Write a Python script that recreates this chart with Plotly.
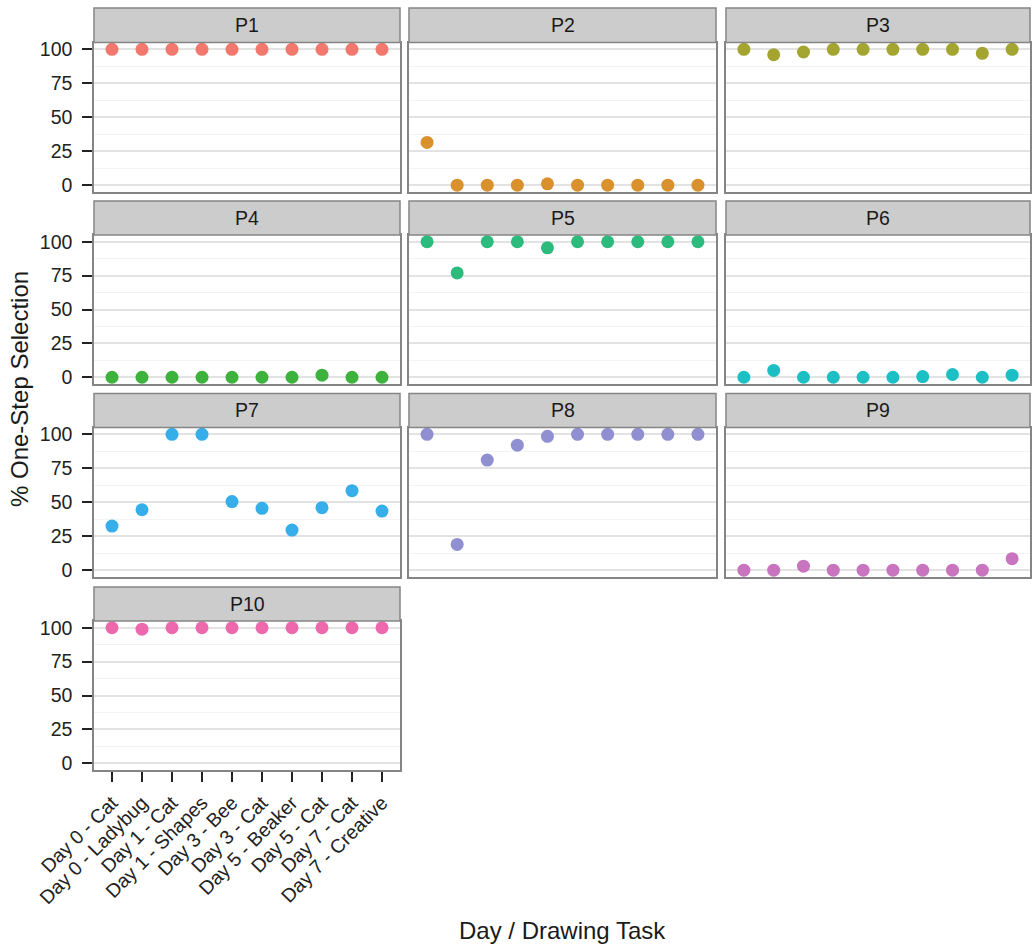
import plotly.graph_objects as go

# Drawing tasks (x categories)
tasks = [
    "Day 0 - Cat", "Day 0 - Ladybug", "Day 1 - Cat", "Day 1 - Shapes",
    "Day 3 - Bee", "Day 3 - Cat", "Day 5 - Beaker", "Day 5 - Cat",
    "Day 7 - Cat", "Day 7 - Creative",
]

participants = ["P1", "P2", "P3", "P4", "P5", "P6", "P7", "P8", "P9", "P10"]

# % one-step selection per participant, one value per task
p1 = [100, 100, 100, 100, 100, 100, 100, 100, 100, 100]
p2 = [31.5, 0, 0, 0, 1, 0, 0, 0, 0, 0]
p3 = [100, 96, 98, 100, 100, 100, 100, 100, 97, 100]
p4 = [0, 0, 0, 0, 0, 0, 0, 1.5, 0, 0]
p5 = [100, 77, 100, 100, 95.5, 100, 100, 100, 100, 100]
p6 = [0, 5, 0, 0, 0, 0, 0.5, 2, 0, 1.5]
p7 = [32.5, 44.5, 100, 100, 50.5, 45.5, 29.5, 46, 58.5, 43.5]
p8 = [100, 19, 81, 92, 98.5, 100, 100, 100, 100, 100]
p9 = [0, 0, 3, 0, 0, 0, 0, 0, 0, 8.5]
p10 = [100, 99, 100, 100, 100, 100, 100, 100, 100, 100]

values = [p1, p2, p3, p4, p5, p6, p7, p8, p9, p10]

colors = ["#F2776D", "#D8912C", "#A3A530", "#3DB23D", "#2DBA7D",
          "#1CBFC3", "#36AEEA", "#8F8FD2", "#C874BE", "#EE68AE"]

y_ticks = [0, 25, 50, 75, 100]

W, H = 1032, 945
col_x = [(94, 400), (409, 716), (726, 1030)]
row_strip_top = [8, 201, 393.5, 587]
row_plot = [(42.5, 192), (235, 384), (427.5, 577), (621, 770)]

font_family = "Liberation Sans, Arial, sans-serif"
text_col = "#222222"

fig = go.Figure()
shapes = []
annotations = []
layout_axes = {}

for i, (name, vals) in enumerate(zip(participants, values)):
    r, c = divmod(i, 3)
    k = "" if i == 0 else str(i + 1)
    x0, x1 = col_x[c]
    ytop, ybot = row_plot[r]

    fig.add_trace(go.Scatter(
        x=tasks, y=vals, mode="markers", name=name,
        xaxis="x" + k, yaxis="y" + k,
        marker=dict(size=13, color=colors[i], line=dict(width=0)),
        showlegend=False, cliponaxis=False,
    ))

    bottom_axis = (r == 3) and (c == 0)
    layout_axes["xaxis" + k] = dict(
        domain=[x0 / W, x1 / W], anchor="y" + k, automargin=False,
        type="category", categoryorder="array", categoryarray=tasks,
        range=[-0.6, 9.6], showgrid=False, zeroline=False,
        showline=True, mirror=True, linecolor="#858585", linewidth=1.5,
        ticks="outside" if bottom_axis else "",
        ticklen=10, tickwidth=2, tickcolor=text_col,
        showticklabels=bottom_axis, tickangle=-45, ticklabelstandoff=2,
        tickfont=dict(size=19.5, color=text_col, family=font_family),
        fixedrange=True,
    )
    layout_axes["yaxis" + k] = dict(
        domain=[1 - ybot / H, 1 - ytop / H], anchor="x" + k, automargin=False,
        range=[-5, 105], tickvals=y_ticks, ticktext=[str(v) for v in y_ticks],
        showgrid=True, gridcolor="#E3E3E3", gridwidth=1.5, zeroline=False,
        minor=dict(dtick=12.5, tick0=0, showgrid=True,
                   gridcolor="#F3F3F3", gridwidth=1),
        showline=True, mirror=True, linecolor="#858585", linewidth=1.5,
        ticks="outside" if c == 0 else "",
        ticklen=10, tickwidth=2, tickcolor=text_col,
        showticklabels=(c == 0), ticklabelstandoff=6,
        tickfont=dict(size=19.5, color=text_col, family=font_family),
        fixedrange=True,
    )

    # facet strip
    st = row_strip_top[r]
    shapes.append(dict(
        type="rect", xref="paper", yref="paper",
        x0=x0 / W, x1=x1 / W, y0=1 - ytop / H, y1=1 - st / H,
        fillcolor="#CCCCCC", line=dict(color="#858585", width=1.5),
        layer="above",
    ))
    annotations.append(dict(
        text=name, xref="paper", yref="paper",
        x=(x0 + x1) / 2 / W, y=1 - (st + ytop) / 2 / H,
        xanchor="center", yanchor="middle", showarrow=False,
        font=dict(size=19.5, color="#1A1A1A", family=font_family),
    ))

annotations.append(dict(
    text="% One-Step Selection", xref="paper", yref="paper",
    x=20 / W, y=1 - 389 / H, textangle=-90,
    xanchor="center", yanchor="middle", showarrow=False,
    font=dict(size=24, color="#1A1A1A", family=font_family),
))
annotations.append(dict(
    text="Day / Drawing Task", xref="paper", yref="paper",
    x=562 / W, y=1 - 930 / H,
    xanchor="center", yanchor="middle", showarrow=False,
    font=dict(size=24, color="#1A1A1A", family=font_family),
))

fig.update_layout(
    width=W, height=H,
    margin=dict(l=0, r=0, t=0, b=0),
    paper_bgcolor="white", plot_bgcolor="white",
    font=dict(family=font_family),
    shapes=shapes, annotations=annotations,
    **layout_axes,
)

fig.write_html("out.html")
